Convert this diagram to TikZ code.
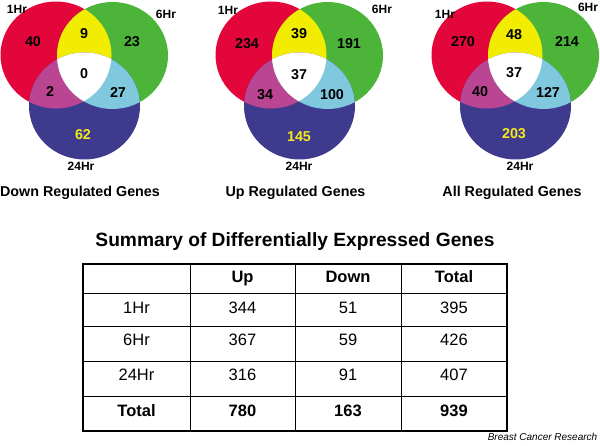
\documentclass[tikz,border=0pt]{standalone}
\usepackage{fontspec}
\setmainfont{Liberation Sans}
\usepackage{tikz}
\definecolor{vred}{HTML}{E2063B}
\definecolor{vgreen}{HTML}{4DB43A}
\definecolor{vyellow}{HTML}{F2EC00}
\definecolor{vpurple}{HTML}{3E3A8E}
\definecolor{vmagenta}{HTML}{BA4592}
\definecolor{vcyan}{HTML}{80C8DE}
\definecolor{numyellow}{HTML}{F4EA1C}

\begin{document}
\begin{tikzpicture}[x=1pt, y=-1pt, x radius=55.5pt, y radius=53.5pt, every node/.style={inner sep=0pt, text depth=0pt}, num/.style={font=\bfseries\fontsize{14.3}{14.3}\selectfont, text height=10.2pt}, hr/.style={font=\bfseries\fontsize{12}{12}\selectfont, text height=8.6pt}, vcaption/.style={font=\bfseries\fontsize{14.3}{14.3}\selectfont, text height=10.2pt}, cell/.style={font=\fontsize{16.5}{16.5}\selectfont, text height=11.8pt}, head/.style={cell, font=\bfseries\fontsize{16.5}{16.5}\selectfont}]
\useasboundingbox (0,0) rectangle (600,445);
% three venn diagrams, same circles shifted
\begin{scope}[xshift=0pt]
\coordinate (dr0) at (56,55); \coordinate (dg0) at (112.5,55.5); \coordinate (dp0) at (84.5,106);
\fill[vred] (dr0) circle; \fill[vgreen] (dg0) circle; \fill[vpurple] (dp0) circle;
\begin{scope}\clip (dr0) circle; \fill[vyellow] (dg0) circle; \fill[vmagenta] (dp0) circle;\end{scope}
\begin{scope}\clip (dg0) circle; \fill[vcyan] (dp0) circle; \clip (dr0) circle; \fill[white] (dp0) circle;\end{scope}
\node[hr] (d1h) at (17,9) {1Hr}; \node[hr] (d6h) at (166,14) {6Hr}; \node[hr] (d24h) at (81,166) {24Hr};
\node[num] (dr) at (33,41) {40}; \node[num] (drg) at (84,33) {9}; \node[num] (dg) at (132,41) {23}; \node[num] (dall) at (84,73) {0};
\node[num] (drp) at (50,91) {2}; \node[num] (dgp) at (118,92) {27}; \node[num, numyellow] (dp) at (83,134) {62};
\node[vcaption] (dcap) at (80,191) {Down Regulated Genes};
\end{scope}
\begin{scope}[xshift=215pt]
\coordinate (ur0) at (56,55); \coordinate (ug0) at (112.5,55.5); \coordinate (up0) at (84.5,106);
\fill[vred] (ur0) circle; \fill[vgreen] (ug0) circle; \fill[vpurple] (up0) circle;
\begin{scope}\clip (ur0) circle; \fill[vyellow] (ug0) circle; \fill[vmagenta] (up0) circle;\end{scope}
\begin{scope}\clip (ug0) circle; \fill[vcyan] (up0) circle; \clip (ur0) circle; \fill[white] (up0) circle;\end{scope}
\node[hr] (u1h) at (13,10) {1Hr}; \node[hr] (u6h) at (167,9) {6Hr}; \node[hr] (u24h) at (84,166) {24Hr};
\node[num] (ur) at (32,43) {234}; \node[num] (urg) at (84,33) {39}; \node[num] (ug) at (134,43) {191}; \node[num] (uall) at (84,74) {37};
\node[num] (urp) at (50,94) {34}; \node[num] (ugp) at (117,94) {100}; \node[num, numyellow] (up) at (84,136) {145};
\node[vcaption] (ucap) at (80.5,191) {Up Regulated Genes};
\end{scope}
\begin{scope}[xshift=431pt]
\coordinate (ar0) at (56,55); \coordinate (ag0) at (112.5,55.5); \coordinate (ap0) at (84.5,106);
\fill[vred] (ar0) circle; \fill[vgreen] (ag0) circle; \fill[vpurple] (ap0) circle;
\begin{scope}\clip (ar0) circle; \fill[vyellow] (ag0) circle; \fill[vmagenta] (ap0) circle;\end{scope}
\begin{scope}\clip (ag0) circle; \fill[vcyan] (ap0) circle; \clip (ar0) circle; \fill[white] (ap0) circle;\end{scope}
\node[hr] (a1h) at (14,14) {1Hr}; \node[hr] (a6h) at (157,7) {6Hr}; \node[hr] (a24h) at (89,166) {24Hr};
\node[num] (ar) at (32,41) {270}; \node[num] (arg) at (83,34) {48}; \node[num] (ag) at (136,41) {214}; \node[num] (aall) at (83,72) {37};
\node[num] (arp) at (49,91) {40}; \node[num] (agp) at (117,92) {127}; \node[num, numyellow] (ap) at (83,133) {203};
\node[vcaption] (acap) at (81,191) {All Regulated Genes};
\end{scope}
% summary table
\node[font=\bfseries\fontsize{19.2}{19.2}\selectfont, text height=13.7pt] (title) at (295,240) {Summary of Differentially Expressed Genes};
\draw[line width=0.8pt] (190,264) -- (190,431) (295,264) -- (295,431) (401,264) -- (401,431);
\draw[line width=0.8pt] (83,293) -- (507,293) (83,326) -- (507,326) (83,361) -- (507,361) (83,396) -- (507,396);
\draw[line width=2pt] (83,264) rectangle (507,431);
\node[head] (hup) at (242.5,277) {Up}; \node[head] (hdown) at (348,277) {Down}; \node[head] (htot) at (454,277) {Total};
\node[cell] (t1) at (136.5,308) {1Hr}; \node[cell] (t1u) at (242.5,308) {344}; \node[cell] (t1d) at (348,308) {51}; \node[cell] (t1t) at (454,308) {395};
\node[cell] (t6) at (136.5,340) {6Hr}; \node[cell] (t6u) at (242.5,340) {367}; \node[cell] (t6d) at (348,340) {59}; \node[cell] (t6t) at (454,340) {426};
\node[cell] (t24) at (136.5,375) {24Hr}; \node[cell] (t24u) at (242.5,375) {316}; \node[cell] (t24d) at (348,375) {91}; \node[cell] (t24t) at (454,375) {407};
\node[head] (tt) at (136.5,411) {Total}; \node[head] (ttu) at (242.5,411) {780}; \node[head] (ttd) at (348,411) {163}; \node[head] (ttt) at (454,411) {939};
\node[font=\itshape\fontsize{10}{10}\selectfont, text height=7.2pt] (src) at (542.5,437) {Breast Cancer Research};
\end{tikzpicture}
\end{document}
